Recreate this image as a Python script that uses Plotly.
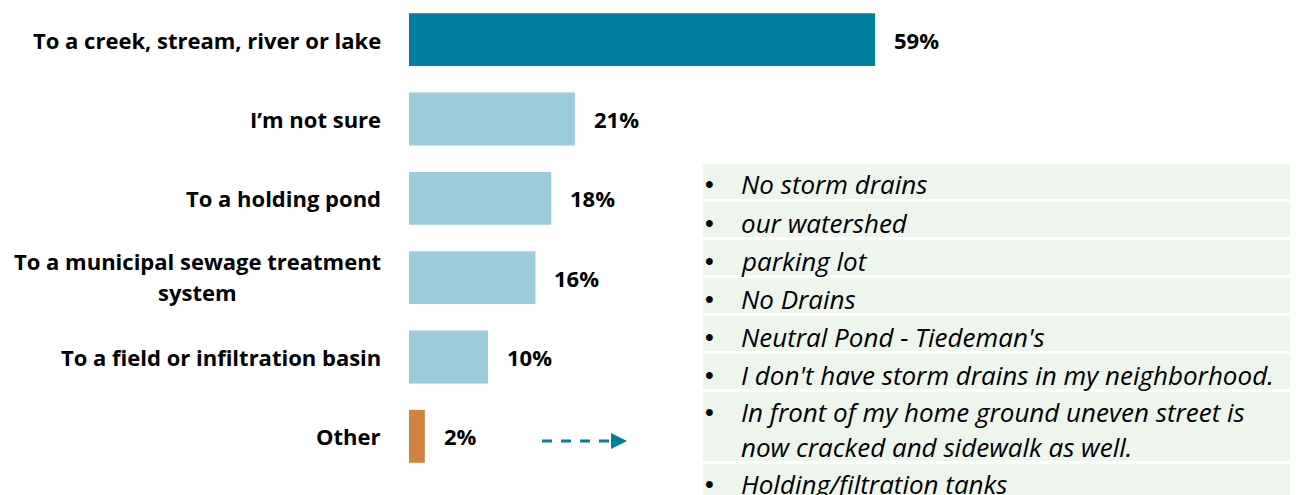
import plotly.graph_objects as go

# Survey answers: where does water from storm drains go?
categories = [
    "To a creek, stream, river or lake",
    "I\u2019m not sure",
    "To a holding pond",
    "To a municipal sewage treatment\nsystem",
    "To a field or infiltration basin",
    "Other",
]
values = [59, 21, 18, 16, 10, 2]
bar_colors = ["#007F9F", "#9CCBD9", "#9CCBD9", "#9CCBD9", "#9CCBD9", "#D08340"]

# Write-in answers given under "Other"
other_responses = [
    "No storm drains",
    "our watershed",
    "parking lot",
    "No Drains",
    "Neutral Pond - Tiedeman's",
    "I don't have storm drains in my neighborhood.",
    "In front of my home ground uneven street is\nnow cracked and sidewalk as well.",
    "Holding/filtration tanks",
]

W, H = 1299, 495
ML, MR, MT, MB = 409, 100, 0, 19
PW, PH = W - ML - MR, H - MT - MB
FONT = "Open Sans, Lato, sans-serif"
LABEL_SIZE = 22
LIST_SIZE = 26
LABEL_LINE = 31


def paper_x(px):
    return (px - ML) / PW


def paper_y(py):
    return 1 - (py - MT) / PH


ypos = list(range(len(categories)))

fig = go.Figure(
    go.Bar(
        x=values,
        y=ypos,
        orientation="h",
        width=0.667,
        marker=dict(color=bar_colors, line=dict(width=0)),
        hoverinfo="skip",
    )
)

label_font = dict(family=FONT, size=LABEL_SIZE, color="#000000", weight="bold")
annotations = []
for i, (cat, val) in enumerate(zip(categories, values)):
    lines = cat.split("\n")
    n = len(lines)
    for k, ln in enumerate(lines):
        yshift = ((n - 1) / 2 - k) * LABEL_LINE + (1 if n > 1 else 0)
        if k == 0:
            # first line sits right-aligned against the bar
            annotations.append(dict(
                x=0, y=i, xref="x", yref="y", xanchor="right", yanchor="middle",
                xshift=-26, yshift=yshift, text=ln, showarrow=False, font=label_font,
            ))
        else:
            # continuation lines are centred under the first line
            annotations.append(dict(
                x=paper_x(197), y=i, xref="paper", yref="y", xanchor="center",
                yanchor="middle", yshift=yshift, text=ln, showarrow=False, font=label_font,
            ))
    annotations.append(dict(
        x=val, y=i, xref="x", yref="y", xanchor="left", yanchor="middle",
        xshift=17, text=f"{val}%", showarrow=False, font=label_font,
    ))

shapes = []

# Panel of write-in answers: one shaded row per response
row_top, row_gap, line_h = 164, 3, 35
tbl_left, tbl_right = 703, 1290
y = row_top
for resp in other_responses:
    lines = resp.split("\n")
    h = line_h if len(lines) == 1 else 69
    shapes.append(dict(
        type="rect", xref="paper", yref="paper", layer="below",
        x0=paper_x(tbl_left), x1=paper_x(tbl_right),
        y0=paper_y(y), y1=paper_y(y + h),
        fillcolor="#EEF5EC", line=dict(width=0),
    ))
    step = h / len(lines)
    annotations.append(dict(
        x=paper_x(703), y=paper_y(y + step / 2 + 3), xref="paper", yref="paper",
        xanchor="left", yanchor="middle", text="\u2022", showarrow=False,
        font=dict(family="Liberation Sans, Arial, sans-serif", size=25, color="#000000"),
    ))
    for k, ln in enumerate(lines):
        annotations.append(dict(
            x=paper_x(739), y=paper_y(y + step * (k + 0.5) + 3), xref="paper", yref="paper",
            xanchor="left", yanchor="middle", text=f"<i>{ln}</i>", showarrow=False,
            font=dict(family=FONT, size=LIST_SIZE, color="#000000"),
        ))
    y += h + row_gap

# Dashed pointer from the "Other" bar toward the write-in panel
arrow_y = 441
shapes.append(dict(
    type="line", xref="paper", yref="paper",
    x0=paper_x(542), x1=paper_x(612), y0=paper_y(arrow_y), y1=paper_y(arrow_y),
    line=dict(color="#007F9F", width=3, dash="10px,9px"),
))
shapes.append(dict(
    type="path", xref="paper", yref="paper",
    path=(f"M {paper_x(611)} {paper_y(arrow_y - 8)} "
          f"L {paper_x(627)} {paper_y(arrow_y)} "
          f"L {paper_x(611)} {paper_y(arrow_y + 8)} Z"),
    fillcolor="#007F9F", line=dict(width=0),
))

fig.update_layout(
    width=W, height=H,
    margin=dict(l=ML, r=MR, t=MT, b=MB, pad=0),
    paper_bgcolor="#FFFFFF", plot_bgcolor="#FFFFFF",
    showlegend=False,
    xaxis=dict(range=[0, 100], visible=False, fixedrange=True),
    yaxis=dict(range=[5.5, -0.5], visible=False, fixedrange=True),
    annotations=annotations,
    shapes=shapes,
    font=dict(family=FONT),
)

fig.write_html("out.html")
